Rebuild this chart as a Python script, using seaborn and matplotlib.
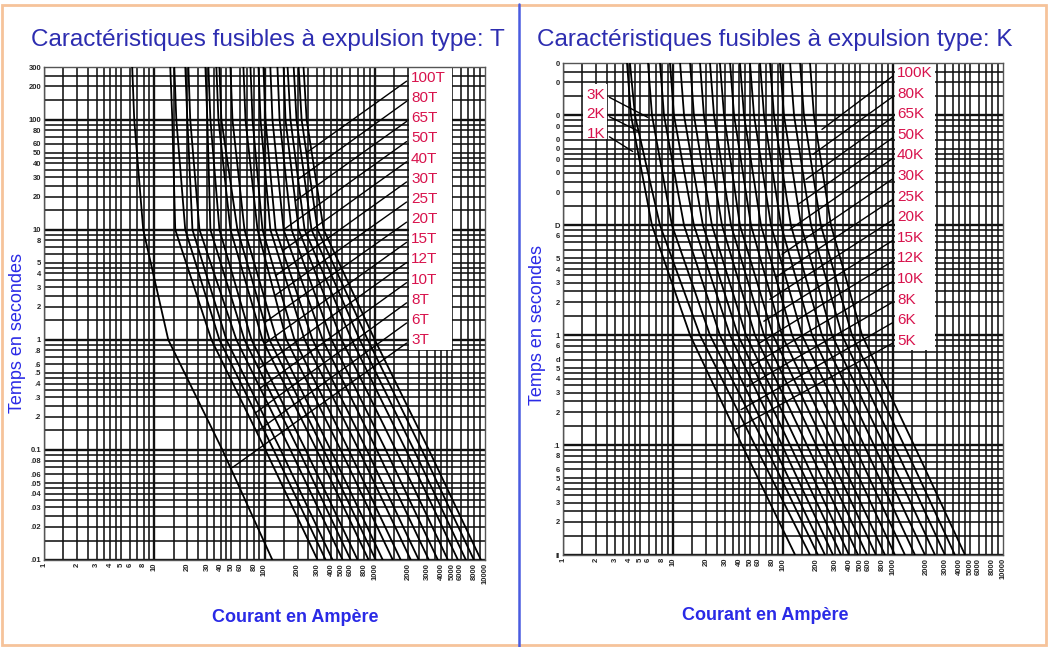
import matplotlib
matplotlib.use("Agg")
import matplotlib.pyplot as plt
import pandas as pd
import seaborn as sns
from matplotlib.lines import Line2D
from matplotlib.patches import Rectangle
from matplotlib.ticker import FixedLocator, NullLocator

TIMES = [300, 100, 10, 1, 0.1, 0.01]

# type T links: current (A) at each time level
T_CURVES = [
    [6.31, 6.58, 7.94, 13.4, 41.5, 118],
    [13.97, 14.58, 15.5, 33, 102, 303],
    [15.2, 15.85, 19.1, 39, 121, 359],
    [19.13, 19.95, 22.2, 45.1, 140, 415],
    [20.4, 21.2, 25.7, 55.6, 172, 512],
    [29.1, 30.3, 32.3, 65.8, 204, 605],
    [31.0, 32.3, 39, 76.2, 236, 700],
    [36.6, 38.2, 49.1, 95.9, 297, 881],
    [39, 40.6, 56.8, 111, 344, 1021],
    [49.1, 51.2, 65.8, 129, 398, 1183],
    [64.4, 67.2, 86.4, 158, 491, 1459],
    [74.6, 77.8, 95.9, 187, 580, 1722],
    [88.2, 92, 113, 231, 716, 2124],
    [97.9, 102, 126, 273, 846, 2512],
    [113, 118, 149, 337, 1042, 3097],
    [131, 137, 176, 406, 1259, 3741],
    [149, 155, 204, 501, 1552, 4613],
    [162, 172, 231, 618, 1914, 5685],
    [184, 195, 267, 731, 2265, 6714],
    [204, 217, 303, 863, 2673, 7943],
    [226, 241, 344, 1000, 3097, 9200],
]

# type K links
K_CURVES = [
    [3.82, 4.15, 6.44, 14.3, 42.4, 129],
    [4.06, 4.51, 7.62, 17.6, 55.6, 176],
    [5.93, 6.44, 9.79, 21.7, 68.6, 208],
    [7.62, 8.28, 12.6, 26.7, 81.1, 241],
    [9.39, 10.2, 15.5, 33, 97.9, 285],
    [11.6, 12.6, 18.7, 39, 116, 337],
    [14.3, 15.5, 22.6, 46.1, 137, 398],
    [17.6, 19.1, 27.9, 55.6, 165, 481],
    [21.7, 23.6, 33.7, 67.2, 200, 580],
    [26.7, 29.1, 40.6, 81.1, 241, 700],
    [33, 35.9, 51.2, 97.9, 291, 846],
    [40.6, 44.2, 63.1, 121, 359, 1042],
    [50.1, 54.5, 77.8, 149, 442, 1285],
    [61.8, 67.2, 95.9, 184, 545, 1585],
    [76.2, 82.8, 118, 226, 671, 1954],
    [93.9, 102, 146, 279, 828, 2410],
    [116, 126, 180, 344, 1021, 2970],
    [143, 155, 221, 424, 1259, 3660],
    [176, 191, 273, 523, 1552, 4520],
]

T_LABELS = ["100T", "80T", "65T", "50T", "40T", "30T", "25T",
            "20T", "15T", "12T", "10T", "8T", "6T", "3T"]
T_END_I = [241, 200, 191, 149, 146, 126, 123, 100, 100, 88.2, 92, 82.8, 84.6, 51]
T_END_T = [50.1, 28.5, 18.3, 10, 6.44, 3.82, 2.51, 1.43, 0.92, 0.545, 0.366, 0.217, 0.146, 0.069]

K_LABELS = ["100K", "80K", "65K", "50K", "40K", "30K", "25K",
            "20K", "15K", "12K", "10K", "8K", "6K", "5K"]
K_END_I = [226, 187, 162, 137, 116, 98, 86, 76, 67, 59, 52, 47, 41.5, 37.4]
K_END_T = [74.6, 44.2, 26.2, 15.5, 9.2, 5.45, 3.37, 2.12, 1.34, 0.83, 0.53, 0.34, 0.21, 0.14]

K_SMALL_LABELS = ["3K", "2K", "1K"]
K_SMALL_END_I = [5.9, 4.9, 4.3]
K_SMALL_END_T = [96, 71.6, 47]

X_TICKS = [1, 2, 3, 4, 5, 6, 8, 10, 20, 30, 40, 50, 60, 80, 100, 200, 300, 400,
           500, 600, 800, 1000, 2000, 3000, 4000, 5000, 6000, 8000, 10000]
Y_TICKS = [300, 200, 100, 80, 60, 50, 40, 30, 20, 10, 8, 5, 4, 3, 2, 1, .8, .6,
           .5, .4, .3, .2, .1, .08, .06, .05, .04, .03, .02, .01]
Y_LABELS_T = ["300", "200", "100", "80", "60", "50", "40", "30", "20", "10", "8",
              "5", "4", "3", "2", "1", ".8", ".6", ".5", ".4", ".3", ".2", "0.1",
              ".08", ".06", ".05", ".04", ".03", ".02", ".01"]
Y_LABELS_K = ["0", "0", "0", "0", "0", "0", "0", "0", "0", "D", "6", "5", "4",
              "3", "2", "1", "6", "d", "5", "4", "3", "2", ".1", "8", "6", "5",
              "4", "3", "2", "ll"]

GRID_STEPS = [1, 1.5, 2, 2.5, 3, 3.5, 4, 4.5, 5, 6, 7, 8, 9]

BLUE_TITLE = "#2d2db0"
BLUE_LABEL = "#2a2ae6"
RED = "#d8124c"
W, H = 1048, 647


def to_long(curves):
    rows = []
    for i, cur in enumerate(curves):
        for amp, sec in zip(cur, TIMES):
            rows.append({"curve": i, "I": amp, "t": sec})
    return pd.DataFrame(rows)


def draw_grid(ax):
    for e in range(0, 4):
        for m in GRID_STEPS:
            v = m * 10 ** e
            ax.axvline(v, color="#111111", lw=1.7 if m == 1 else 1.15, zorder=1)
    for e in range(-2, 3):
        for m in GRID_STEPS:
            v = m * 10 ** e
            if v > 300:
                continue
            ax.axhline(v, color="#111111", lw=1.7 if m == 1 else 1.15, zorder=1)


def setup_axes(ax, ylabels):
    ax.set_xscale("log")
    ax.set_yscale("log")
    ax.set_xlim(1, 10000)
    ax.set_ylim(0.01, 300)
    ax.xaxis.set_major_locator(FixedLocator(X_TICKS))
    ax.xaxis.set_minor_locator(NullLocator())
    ax.yaxis.set_major_locator(FixedLocator(Y_TICKS))
    ax.yaxis.set_minor_locator(NullLocator())
    ax.set_xticklabels([str(v) for v in X_TICKS], rotation=90, fontsize=5.5,
                       fontweight="bold")
    ax.set_yticklabels(ylabels, fontsize=5.5, fontweight="bold")
    ax.tick_params(length=0, pad=2)
    ax.set_xlabel("")
    ax.set_ylabel("")
    for s in ax.spines.values():
        s.set_color("#555555")
        s.set_linewidth(1.0)
    draw_grid(ax)


def px_box(ax, x0, y0, x1, y1, ax_px):
    # white label panel, given in figure pixels
    left, top, right, bottom = ax_px
    fx0 = (x0 - left) / (right - left)
    fx1 = (x1 - left) / (right - left)
    fy0 = (bottom - y1) / (bottom - top)
    fy1 = (bottom - y0) / (bottom - top)
    ax.add_patch(Rectangle((fx0, fy0), fx1 - fx0, fy1 - fy0, transform=ax.transAxes,
                           facecolor="white", edgecolor="none", zorder=2))


def leader(ax, text, xy, xytext, ha="left"):
    ax.annotate(text, xy=xy, xycoords="data", xytext=xytext, textcoords="axes fraction",
                ha=ha, va="center", fontsize=11, color=RED, zorder=5,
                arrowprops=dict(arrowstyle="-", color="black", lw=1.0,
                                relpos=(0 if ha == "left" else 1, 0.5),
                                shrinkA=1, shrinkB=0))


sns.set_theme(style="white")
plt.rcParams["font.family"] = ["Liberation Sans", "DejaVu Sans"]

fig = plt.figure(figsize=(W / 100, H / 100), dpi=100)
fig.patch.set_facecolor("white")

left_px = (44, 67, 485, 560)
right_px = (563, 63, 1003, 555)

axL = fig.add_axes([left_px[0] / W, 1 - left_px[3] / H, (left_px[2] - left_px[0]) / W,
                    (left_px[3] - left_px[1]) / H])
axR = fig.add_axes([right_px[0] / W, 1 - right_px[3] / H, (right_px[2] - right_px[0]) / W,
                    (right_px[3] - right_px[1]) / H])

setup_axes(axL, Y_LABELS_T)
setup_axes(axR, Y_LABELS_K)

sns.lineplot(data=to_long(T_CURVES), x="I", y="t", units="curve", estimator=None,
             sort=False, color="black", lw=1.3, ax=axL, legend=False, zorder=3)
sns.lineplot(data=to_long(K_CURVES), x="I", y="t", units="curve", estimator=None,
             sort=False, color="black", lw=1.3, ax=axR, legend=False, zorder=3)
for ax in (axL, axR):
    ax.set_xlabel("")
    ax.set_ylabel("")

# label panels
px_box(axL, 409, 67, 452, 350, left_px)
px_box(axR, 895, 63, 935, 350, right_px)
px_box(axR, 583, 84, 607, 139, right_px)

# leaders, left chart
for k, (lab, ei, et) in enumerate(zip(T_LABELS, T_END_I, T_END_T)):
    ypx = 78 + k * 20.15
    fy = (left_px[3] - ypx) / (left_px[3] - left_px[1])
    fx = (411 - left_px[0]) / (left_px[2] - left_px[0])
    leader(axL, lab, (ei, et), (fx, fy))

for k, (lab, ei, et) in enumerate(zip(K_LABELS, K_END_I, K_END_T)):
    ypx = 73 + k * 20.6
    fy = (right_px[3] - ypx) / (right_px[3] - right_px[1])
    fx = (897 - right_px[0]) / (right_px[2] - right_px[0])
    leader(axR, lab, (ei, et), (fx, fy))

for k, (lab, ei, et) in enumerate(zip(K_SMALL_LABELS, K_SMALL_END_I, K_SMALL_END_T)):
    ypx = 95 + k * 19.5
    fy = (right_px[3] - ypx) / (right_px[3] - right_px[1])
    fx = (605 - right_px[0]) / (right_px[2] - right_px[0])
    leader(axR, lab, (ei, et), (fx, fy), ha="right")

# titles and axis names
fig.text(268 / W, 1 - 40 / H, "Caractéristiques fusibles à expulsion type: T",
         ha="center", va="center", fontsize=17.5, color=BLUE_TITLE)
fig.text(775 / W, 1 - 40 / H, "Caractéristiques fusibles à expulsion type: K",
         ha="center", va="center", fontsize=17.5, color=BLUE_TITLE)
fig.text(18 / W, 1 - 333 / H, "Temps en secondes", rotation=90, ha="center",
         va="center", fontsize=13, color=BLUE_LABEL)
fig.text(537 / W, 1 - 325 / H, "Temps en secondes", rotation=90, ha="center",
         va="center", fontsize=13, color=BLUE_LABEL)
fig.text(295 / W, 1 - 617 / H, "Courant en Ampère", ha="center", va="center",
         fontsize=13, fontweight="bold", color=BLUE_LABEL)
fig.text(765 / W, 1 - 615 / H, "Courant en Ampère", ha="center", va="center",
         fontsize=13, fontweight="bold", color=BLUE_LABEL)

# frame and divider
fig.add_artist(Rectangle((2 / W, 2 / H), 1 - 4 / W, 1 - 7 / H, transform=fig.transFigure,
                         fill=False, edgecolor="#f6c39a", lw=2))
fig.add_artist(Line2D([519 / W, 519 / W], [0, 1 - 4 / H], transform=fig.transFigure,
                      color="#4a5ce0", lw=1.8))

fig.savefig("out.png", dpi=100)
